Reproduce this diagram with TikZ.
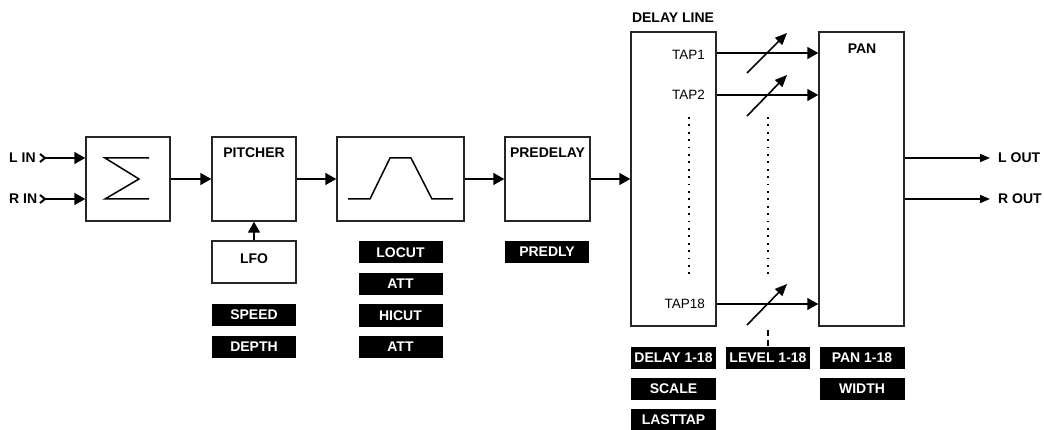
\documentclass[tikz,border=0pt]{standalone}
\usepackage{fontspec}
\setmainfont{Liberation Sans}
\usetikzlibrary{arrows.meta}
\begin{document}
\begin{tikzpicture}[x=1pt,y=-1pt,
 blk/.style={draw=black!85, line width=1.5pt, minimum width=84pt, minimum height=84pt, inner sep=0pt},
 tag/.style={fill=black, text=white, font=\fontsize{14}{16}\selectfont\bfseries, minimum width=84pt, minimum height=22pt, inner sep=0pt},
 ttl/.style={font=\fontsize{14}{16}\selectfont\bfseries, inner sep=0pt},
 tap/.style={font=\fontsize{13.5}{16}\selectfont, inner sep=0pt, anchor=east},
 sig/.style={-{Triangle[length=11pt,width=12pt]}, line width=1.6pt},
 lev/.style={-{Triangle[length=12pt,width=10pt]}, line width=1.6pt},
 outarr/.style={-{Triangle[length=10pt,width=8pt]}, line width=1.6pt},
 sym/.style={line width=1.5pt},
 dotcol/.style={line width=1.8pt, dash pattern=on 1.8pt off 5.6pt},
]
\useasboundingbox (0,0) rectangle (1044,430);
% blocks
\node[blk] (sum) at (128,179) {};
\node[blk] (pit) at (254,179) {};
\node[blk, minimum width=127pt] (flt) at (400.5,179) {};
\node[blk, minimum width=85pt] (pre) at (547.5,179) {};
\node[blk, minimum width=85pt, minimum height=294pt] (dly) at (673.5,179) {};
\node[blk, minimum width=85pt, minimum height=294pt] (pan) at (861.5,179) {};
\node[blk, minimum height=42pt] (lfo) at (254,262) {};
% titles
\node[ttl] (pitT) at (254,153) {PITCHER};
\node[ttl] (preT) at (547.5,153) {PREDELAY};
\node[ttl] (dlyT) at (673,17.5) {DELAY LINE};
\node[ttl] (panT) at (862,49) {PAN};
\node[ttl] (lfoT) at (254,259) {LFO};
% sigma and filter symbols
\draw[sym] (149,158) -- (105,158) -- (139,179) -- (105,199) -- (149,199);
\draw[sym] (348,199) -- (370,199) -- (390,158) -- (411,158) -- (432,199) -- (453,199);
% inputs
\node[ttl, anchor=west] (lin) at (9,158) {L IN};
\node[ttl, anchor=west] (rin) at (9,199) {R IN};
\draw[line width=2pt] (40,154) -- (45,158) -- (40,162);
\draw[line width=2pt] (40,195) -- (45,199) -- (40,203);
\coordinate (linend) at (45,158);
\coordinate (rinend) at (45,199);
\draw[sig] (linend) -- (sum.west |- linend);
\draw[sig] (rinend) -- (sum.west |- rinend);
% chain
\draw[sig] (sum) -- (pit);
\draw[sig] (pit) -- (flt);
\draw[sig] (flt) -- (pre);
\draw[sig] (pre) -- (dly);
\draw[sig] (lfo.north) -- (pit.south);
% taps
\node[tap] (t1) at (705,55) {TAP1};
\node[tap] (t2) at (705,95) {TAP2};
\node[tap] (t18) at (705,304) {TAP18};
\coordinate (y1) at (0,53);
\coordinate (y2) at (0,95);
\coordinate (y18) at (0,304);
\draw[sig] (dly.east |- y1) -- (pan.west |- y1);
\draw[sig] (dly.east |- y2) -- (pan.west |- y2);
\draw[sig] (dly.east |- y18) -- (pan.west |- y18);
\draw[dotcol] (689,117) -- (689,278);
\draw[dotcol] (768,117) -- (768,278);
% level controls
\draw[lev] (747,73) -- (787,33);
\draw[lev] (747,116) -- (787,75);
\draw[lev] (747,325) -- (787,284);
% outputs
\coordinate (lo) at (990,158);
\coordinate (ro) at (990,199);
\draw[outarr] (pan.east |- lo) -- (lo);
\draw[outarr] (pan.east |- ro) -- (ro);
\node[ttl, anchor=west] (lout) at (998,158) {L OUT};
\node[ttl, anchor=west] (rout) at (998,199) {R OUT};
% parameter tags
\node[tag] (speed) at (254,315) {SPEED};
\node[tag] (depth) at (254,347) {DEPTH};
\node[tag] (locut) at (400.5,252.5) {LOCUT};
\node[tag] (att1) at (400.5,284) {ATT};
\node[tag] (hicut) at (400.5,315.5) {HICUT};
\node[tag] (att2) at (400.5,347) {ATT};
\node[tag] (predly) at (547,252) {PREDLY};
\node[tag, minimum width=85pt] (dl) at (673.5,357.5) {DELAY 1-18};
\node[tag, minimum width=85pt] (scale) at (673.5,388.5) {SCALE};
\node[tag, minimum width=85pt] (last) at (673.5,419.5) {LASTTAP};
\node[tag] (lvl) at (768,357.5) {LEVEL 1-18};
\node[tag, minimum width=85pt] (pn) at (862,357.5) {PAN 1-18};
\node[tag, minimum width=85pt] (width) at (862,388.5) {WIDTH};
\coordinate (lvd) at (768,330);
\draw[line width=1.5pt, dash pattern=on 6pt off 4pt] (lvd) -- (lvl.north);
\end{tikzpicture}
\end{document}
